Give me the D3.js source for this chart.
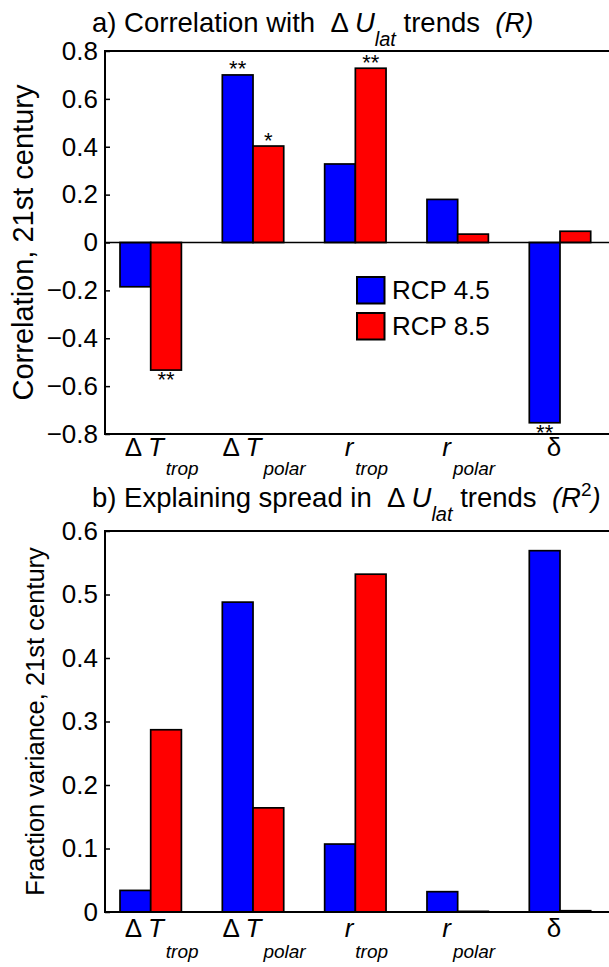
<!DOCTYPE html>
<html>
<head>
<meta charset="utf-8">
<script src="https://cdnjs.cloudflare.com/ajax/libs/d3/7.8.5/d3.min.js"></script>
<style>
  html, body { margin: 0; padding: 0; background: #fff; }
  svg { display: block; }
  text { font-family: "Liberation Sans", Arial, Helvetica, sans-serif; fill: #000; white-space: pre; }
</style>
</head>
<body>
<svg id="chart" width="609" height="967"></svg>
<script>
// ---------------- data ----------------
const catIndex = [1, 2, 3, 4, 5];
const labelPrefix = ["Δ ", "Δ ", "", "", ""];
const labelMain = ["T", "T", "r", "r", "δ"];
const labelMainItalic = [true, true, true, true, false];
const labelSub = ["trop", "polar", "trop", "polar", ""];
const seriesNames = ["RCP 4.5", "RCP 8.5"];
const seriesColors = ["#0000ff", "#ff0000"];

// panel a: correlation R
const rcp45R = [-0.185, 0.700, 0.328, 0.180, -0.753];
const rcp85R = [-0.533, 0.403, 0.728, 0.035, 0.047];
const sig45 = ["", "**", "", "", "**"];
const sig85 = ["**", "*", "**", "", ""];
// panel b: fraction variance R^2
const rcp45R2 = [0.034, 0.488, 0.107, 0.032, 0.569];
const rcp85R2 = [0.287, 0.164, 0.532, 0.001, 0.002];

const ticksA = [-0.8, -0.6, -0.4, -0.2, 0, 0.2, 0.4, 0.6, 0.8];
const ticksB = [0, 0.1, 0.2, 0.3, 0.4, 0.5, 0.6];

// ---------------- layout ----------------
const svg = d3.select("#chart");
const left = 105, right = 625;
const barW = 0.3;
const x = d3.scaleLinear().domain([1, 5]).range([150.7, 560]);
const fmt = d => d === 0 ? "0" : d3.format(".1f")(d);
const FS = 26;

function drawPanel(cfg) {
  const g = svg.append("g");
  const y = d3.scaleLinear().domain(cfg.domain).range([cfg.bottom, cfg.top]);

  // bars
  const series = [cfg.s45, cfg.s85];
  series.forEach((vals, si) => {
    g.selectAll(null).data(vals).enter().append("rect")
      .attr("x", (d, i) => si === 0 ? x(catIndex[i] - barW) : x(catIndex[i]))
      .attr("width", x(1 + barW) - x(1))
      .attr("y", d => Math.min(y(d), y(0)))
      .attr("height", d => Math.abs(y(d) - y(0)))
      .attr("fill", seriesColors[si])
      .attr("stroke", "#000")
      .attr("stroke-width", 1.7);
  });

  // zero baseline
  g.append("line").attr("x1", left).attr("x2", right)
    .attr("y1", y(0)).attr("y2", y(0)).attr("stroke", "#000").attr("stroke-width", 1.3);

  // significance stars
  if (cfg.sig) {
    cfg.sig.forEach((sg, si) => {
      const vals = series[si];
      sg.forEach((s, i) => {
        if (!s) return;
        const v = vals[i];
        const cx = si === 0 ? x(catIndex[i] - barW / 2) : x(catIndex[i] + barW / 2);
        const yy = v >= 0 ? y(v) + 1.5 : y(v) + 17;
        g.append("text").attr("x", cx).attr("y", yy)
          .attr("text-anchor", "middle").style("font-size", "22px").text(s);
      });
    });
  }

  // axis frame
  g.append("line").attr("x1", left).attr("x2", right).attr("y1", cfg.top).attr("y2", cfg.top)
    .attr("stroke", "#000").attr("stroke-width", 2);
  g.append("line").attr("x1", left).attr("x2", right).attr("y1", cfg.bottom).attr("y2", cfg.bottom)
    .attr("stroke", "#000").attr("stroke-width", 2);

  // y axis
  const ax = g.append("g").attr("transform", `translate(${left},0)`)
    .call(d3.axisLeft(y).tickValues(cfg.ticks).tickSize(-5).tickPadding(7).tickFormat(fmt));
  ax.select(".domain").remove();
  ax.selectAll(".tick line").attr("stroke", "#000").attr("stroke-width", 1.5);
  ax.selectAll(".tick text").style("font-size", FS + "px")
    .style("font-family", '"Liberation Sans", Arial, sans-serif').attr("fill", "#000");
  g.append("line").attr("x1", left).attr("x2", left).attr("y1", cfg.top - 1).attr("y2", cfg.bottom + 1)
    .attr("stroke", "#000").attr("stroke-width", 2);

  // y label
  g.append("text")
    .attr("transform", `translate(${cfg.ylabX},${(cfg.top + cfg.bottom) / 2}) rotate(-90)`)
    .attr("text-anchor", "middle").style("font-size", cfg.ylabFS + "px").text(cfg.ylabel);

  // x labels
  catIndex.forEach((c, i) => {
    const off = labelSub[i] ? 11 : -6;
    const t = g.append("text").attr("x", x(c) + off).attr("y", cfg.bottom + cfg.xlabOff)
      .attr("text-anchor", "middle").style("font-size", FS + "px");
    if (labelPrefix[i]) t.append("tspan").text(labelPrefix[i]);
    t.append("tspan").style("font-style", labelMainItalic[i] ? "italic" : "normal").text(labelMain[i]);
    if (labelSub[i]) {
      t.append("tspan").attr("dy", cfg.subDy).attr("dx", 2).style("font-size", "19px")
        .style("font-style", "italic").text(labelSub[i]);
    }
  });

  // title
  const tt = svg.append("text").attr("x", 92).attr("y", cfg.titleY).style("font-size", "27.5px");
  tt.append("tspan").text(cfg.titlePre + "  Δ ");
  tt.append("tspan").style("font-style", "italic").text("U");
  tt.append("tspan").attr("dy", 14).style("font-size", "20px").style("font-style", "italic").text("lat");
  tt.append("tspan").attr("dy", -14).text(" trends  ");
  tt.append("tspan").style("font-style", "italic").text("(R");
  if (cfg.sup) {
    tt.append("tspan").attr("dy", -11).style("font-size", "19px").text("2");
    tt.append("tspan").attr("dy", 11).style("font-style", "italic").text(")");
  } else {
    tt.append("tspan").style("font-style", "italic").text(")");
  }
  return y;
}

drawPanel({
  domain: [-0.8, 0.8], top: 51, bottom: 434, ticks: ticksA,
  s45: rcp45R, s85: rcp85R, sig: [sig45, sig85],
  ylabel: "Correlation, 21st century", ylabX: 33, ylabFS: 29, xlabOff: 22, subDy: 19,
  titlePre: "a) Correlation with", titleY: 32, sup: false
});

drawPanel({
  domain: [0, 0.6], top: 531, bottom: 912, ticks: ticksB,
  s45: rcp45R2, s85: rcp85R2, sig: null,
  ylabel: "Fraction variance, 21st century", ylabX: 44, ylabFS: 25.5, xlabOff: 25, subDy: 21,
  titlePre: "b) Explaining spread in", titleY: 507, sup: true
});

// legend (panel a)
const leg = svg.append("g");
seriesNames.forEach((name, i) => {
  leg.append("rect").attr("x", 357).attr("y", 277 + i * 36).attr("width", 27.5).attr("height", 26.5)
    .attr("fill", seriesColors[i]).attr("stroke", "#000").attr("stroke-width", 2);
  leg.append("text").attr("x", 392).attr("y", 290 + i * 36).attr("dy", "0.36em")
    .style("font-size", "26px").text(name);
});
</script>
</body>
</html>
